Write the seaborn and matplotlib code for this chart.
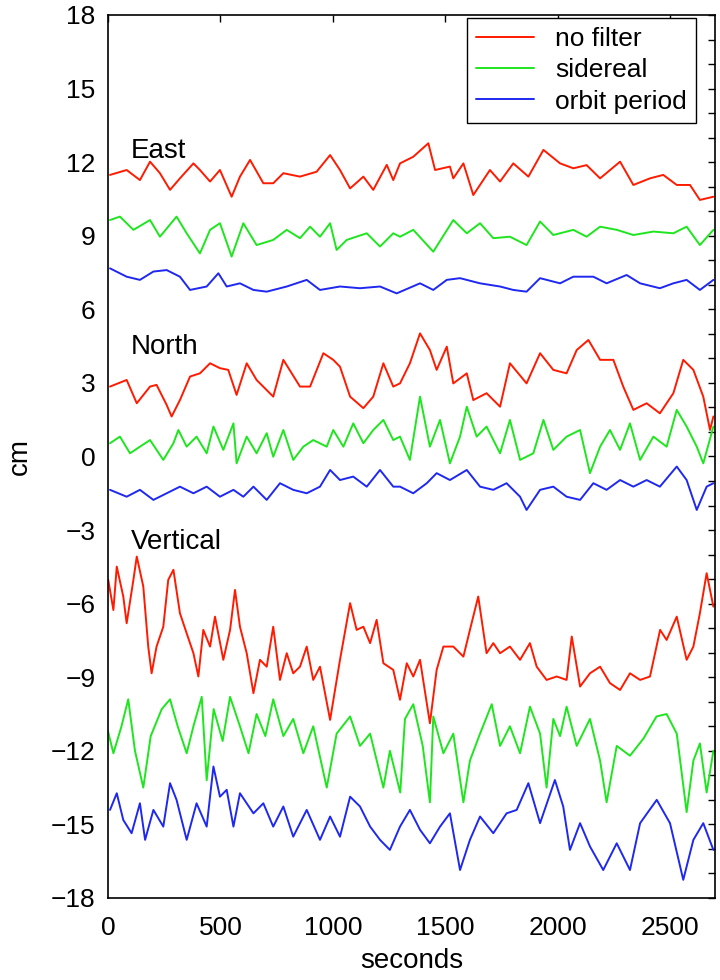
import numpy as np
import pandas as pd
import matplotlib
matplotlib.use("Agg")
import matplotlib.pyplot as plt
import seaborn as sns
from matplotlib.ticker import MultipleLocator
from matplotlib.lines import Line2D

# ---------------- data ----------------
filters = ["no filter", "sidereal", "orbit period"]
components = ["East", "North", "Vertical"]

east_nofilter_t = [9, 83, 142, 187, 231, 276, 320, 380, 409, 454, 498, 550, 587, 632, 691, 735, 780, 854, 928, 988,
                   1032, 1077, 1136, 1180, 1240, 1269, 1299, 1358, 1425, 1455, 1521, 1536, 1581, 1625, 1699, 1744,
                   1803, 1870, 1937, 2011, 2070, 2129, 2189, 2278, 2337, 2411, 2470, 2530, 2589, 2633, 2693]
east_nofilter_v = [11.48, 11.68, 11.27, 12.02, 11.55, 10.87, 11.34, 11.95, 11.68, 11.21, 11.68, 10.59, 11.41, 12.09,
                   11.14, 11.14, 11.55, 11.41, 11.61, 12.29, 11.68, 10.93, 11.41, 10.87, 11.89, 11.27, 11.95, 12.22,
                   12.77, 11.68, 11.82, 11.34, 11.95, 10.66, 11.68, 11.21, 11.95, 11.41, 12.50, 11.95, 11.75, 11.88,
                   11.34, 12.02, 11.07, 11.34, 11.48, 11.07, 11.07, 10.46, 10.59]

east_sidereal_t = [9, 53, 113, 187, 231, 305, 350, 409, 454, 498, 550, 602, 661, 735, 795, 854, 899, 943, 988, 1017,
                   1062, 1151, 1210, 1269, 1299, 1358, 1447, 1536, 1596, 1655, 1714, 1788, 1862, 1922, 1981, 2070,
                   2129, 2189, 2263, 2337, 2426, 2515, 2574, 2633, 2693]
east_sidereal_v = [9.64, 9.78, 9.24, 9.64, 8.96, 9.78, 9.10, 8.28, 9.24, 9.51, 8.15, 9.51, 8.62, 8.83, 9.24, 8.90,
                   9.37, 8.96, 9.51, 8.42, 8.83, 9.10, 8.56, 9.10, 8.96, 9.24, 8.35, 9.64, 9.10, 9.51, 8.90, 8.96,
                   8.62, 9.58, 9.03, 9.24, 8.96, 9.37, 9.24, 9.03, 9.17, 9.10, 9.37, 8.62, 9.24]

east_orbit_t = [9, 83, 142, 202, 261, 320, 365, 439, 491, 528, 587, 647, 706, 795, 884, 943, 1032, 1121, 1210, 1284,
                1388, 1447, 1507, 1566, 1655, 1744, 1803, 1862, 1922, 2011, 2070, 2159, 2218, 2307, 2367, 2455,
                2515, 2574, 2633, 2693]
east_orbit_v = [7.67, 7.33, 7.20, 7.54, 7.60, 7.33, 6.79, 6.93, 7.47, 6.93, 7.06, 6.79, 6.72, 6.93, 7.20, 6.79, 6.93,
                6.86, 6.93, 6.65, 7.06, 6.79, 7.20, 7.27, 7.06, 6.93, 6.79, 6.72, 7.27, 7.06, 7.33, 7.33, 7.06, 7.40,
                7.06, 6.86, 7.06, 7.20, 6.79, 7.20]

north_nofilter_t = [9, 83, 128, 187, 216, 261, 283, 320, 365, 409, 454, 498, 535, 572, 617, 661, 735, 780, 854, 899,
                    958, 1002, 1032, 1077, 1136, 1180, 1225, 1269, 1299, 1343, 1388, 1432, 1462, 1507, 1536, 1596,
                    1625, 1684, 1744, 1788, 1862, 1922, 1981, 2040, 2085, 2137, 2189, 2248, 2292, 2337, 2396, 2455,
                    2515, 2559, 2604, 2648, 2678, 2693]
north_nofilter_v = [2.85, 3.12, 2.17, 2.85, 2.92, 2.10, 1.63, 2.30, 3.26, 3.39, 3.80, 3.60, 3.53, 2.51, 3.80, 3.12,
                    2.44, 3.94, 2.85, 2.85, 4.21, 3.94, 3.66, 2.44, 1.97, 2.44, 3.80, 2.85, 2.98, 3.80, 5.02, 4.34,
                    3.53, 4.48, 2.98, 3.39, 2.30, 2.58, 2.03, 3.80, 2.98, 4.21, 3.53, 3.39, 4.34, 4.75, 3.94, 3.94,
                    2.85, 1.90, 2.17, 1.76, 2.58, 3.94, 3.53, 2.44, 1.08, 1.63]

north_sidereal_t = [9, 53, 98, 142, 187, 246, 291, 313, 350, 394, 439, 469, 513, 558, 572, 617, 661, 706, 735, 780,
                    824, 869, 913, 973, 1002, 1047, 1091, 1136, 1180, 1225, 1269, 1299, 1343, 1388, 1432, 1477, 1521,
                    1566, 1596, 1640, 1684, 1744, 1788, 1833, 1892, 1937, 1981, 2040, 2100, 2144, 2189, 2233, 2278,
                    2322, 2367, 2426, 2485, 2530, 2574, 2619, 2648, 2693]
north_sidereal_v = [0.54, 0.81, 0.13, 0.40, 0.67, -0.14, 0.54, 1.08, 0.40, 0.81, 0.13, 1.22, 0.27, 1.35, -0.28, 0.81,
                    0.13, 0.95, -0.01, 1.08, -0.14, 0.40, 0.67, 0.40, 1.08, 0.40, 1.35, 0.54, 1.08, 1.49, 0.67, 0.81,
                    -0.14, 2.44, 0.40, 1.49, -0.28, 0.81, 2.03, 0.81, 1.22, 0.13, 1.49, -0.14, 0.13, 1.49, 0.27, 0.81,
                    1.08, -0.68, 0.40, 1.08, 0.27, 1.35, -0.14, 0.81, 0.40, 1.90, 1.22, 0.40, -0.28, 1.22]

north_orbit_t = [9, 83, 142, 202, 261, 320, 380, 439, 498, 558, 602, 647, 706, 765, 824, 884, 943, 988, 1032, 1091,
                 1151, 1210, 1269, 1299, 1358, 1418, 1462, 1521, 1596, 1655, 1714, 1773, 1833, 1862, 1922, 1981,
                 2040, 2100, 2159, 2218, 2278, 2337, 2396, 2455, 2530, 2574, 2619, 2663, 2693]
north_orbit_v = [-1.36, -1.64, -1.36, -1.77, -1.50, -1.23, -1.50, -1.23, -1.64, -1.36, -1.64, -1.23, -1.77, -1.09,
                 -1.36, -1.50, -1.23, -0.55, -0.96, -0.82, -1.23, -0.55, -1.23, -1.23, -1.50, -1.09, -0.68, -0.96,
                 -0.55, -1.23, -1.36, -1.09, -1.64, -2.18, -1.36, -1.23, -1.64, -1.77, -1.09, -1.36, -0.96, -1.23,
                 -0.96, -1.23, -0.41, -0.96, -2.18, -1.23, -1.09]

vert_nofilter_t = [1, 24, 39, 68, 83, 113, 128, 157, 179, 194, 216, 246, 268, 291, 320, 350, 380, 402, 424, 454, 476,
                   513, 543, 565, 587, 617, 647, 676, 706, 735, 765, 795, 824, 854, 884, 913, 943, 988, 1032, 1077,
                   1106, 1136, 1166, 1195, 1225, 1269, 1299, 1329, 1358, 1388, 1432, 1462, 1492, 1536, 1581, 1610,
                   1647, 1684, 1714, 1744, 1788, 1833, 1877, 1907, 1951, 1996, 2040, 2063, 2100, 2144, 2189, 2233,
                   2278, 2322, 2367, 2411, 2456, 2485, 2530, 2574, 2604, 2633, 2663, 2693]
vert_nofilter_v = [-5.03, -6.26, -4.49, -5.71, -6.80, -5.03, -4.08, -5.30, -7.75, -8.84, -7.75, -6.94, -5.03, -4.62,
                   -6.39, -7.21, -8.02, -8.97, -7.07, -7.75, -6.53, -8.29, -7.07, -5.44, -6.94, -8.02, -9.65, -8.29,
                   -8.57, -6.94, -9.11, -8.02, -8.84, -8.57, -7.75, -9.11, -8.57, -10.74, -8.29, -5.98, -7.07, -6.94,
                   -7.61, -6.66, -8.43, -8.70, -9.92, -8.43, -8.97, -8.29, -10.88, -8.70, -7.75, -7.75, -8.16, -7.07,
                   -5.71, -8.02, -7.61, -8.02, -7.75, -8.29, -7.61, -8.57, -9.11, -8.97, -9.11, -7.34, -9.38, -8.84,
                   -8.57, -9.24, -9.52, -8.84, -9.11, -8.97, -7.07, -7.48, -6.53, -8.29, -7.75, -6.39, -4.76, -6.12]

vert_sidereal_t = [0, 24, 60, 90, 120, 157, 190, 239, 276, 310, 350, 380, 417, 439, 470, 510, 543, 587, 625, 661, 700,
                   735, 780, 824, 869, 913, 973, 1017, 1077, 1121, 1166, 1225, 1254, 1300, 1321, 1358, 1400, 1432,
                   1447, 1492, 1536, 1581, 1610, 1655, 1707, 1744, 1788, 1833, 1877, 1922, 1951, 1981, 2011, 2040,
                   2085, 2144, 2189, 2218, 2263, 2322, 2382, 2440, 2485, 2530, 2574, 2604, 2633, 2663, 2693]
vert_sidereal_v = [-11.2, -12.1, -11.0, -9.9, -12.0, -13.5, -11.4, -10.3, -9.9, -11.0, -12.1, -11.0, -9.8, -13.2,
                   -10.3, -11.6, -9.8, -11.0, -12.1, -10.5, -11.4, -9.9, -11.4, -10.7, -12.1, -11.0, -13.5, -11.3,
                   -10.6, -11.8, -11.3, -13.5, -12.0, -13.7, -10.7, -10.1, -11.8, -14.1, -10.6, -12.1, -11.3, -14.1,
                   -12.4, -11.3, -10.1, -11.8, -11.0, -12.1, -10.2, -11.3, -13.5, -10.7, -11.4, -10.2, -11.8, -10.7,
                   -12.4, -14.1, -11.8, -12.2, -11.5, -10.6, -10.5, -11.3, -14.5, -12.4, -11.7, -13.7, -12.0]

vert_orbit_t = [9, 39, 68, 105, 142, 165, 202, 246, 276, 305, 350, 394, 439, 469, 498, 528, 558, 587, 647, 691, 735,
                780, 824, 884, 943, 988, 1032, 1077, 1121, 1166, 1210, 1254, 1299, 1343, 1388, 1432, 1477, 1521,
                1566, 1610, 1655, 1714, 1773, 1818, 1870, 1922, 1988, 2025, 2055, 2100, 2144, 2203, 2263, 2322,
                2367, 2441, 2500, 2559, 2604, 2648, 2693]
vert_orbit_v = [-14.41, -13.73, -14.82, -15.36, -14.14, -15.63, -14.41, -15.09, -13.32, -14.00, -15.63, -14.14,
                -15.09, -12.64, -13.87, -13.59, -15.09, -13.73, -14.55, -14.14, -15.09, -14.27, -15.50, -14.41,
                -15.63, -14.68, -15.50, -13.87, -14.27, -15.09, -15.63, -16.04, -15.09, -14.41, -15.22, -15.77,
                -15.09, -14.55, -16.86, -15.63, -14.68, -15.36, -14.55, -14.41, -13.32, -14.95, -13.19, -14.27,
                -16.04, -14.95, -15.90, -16.86, -15.77, -16.86, -14.95, -14.00, -14.95, -17.26, -15.63, -14.95,
                -16.04]

label_positions_cm = {"East": 12.45, "North": 4.45, "Vertical": -3.5}

# ---------------- assemble a tidy table ----------------
series = [
    ("East", "no filter", east_nofilter_t, east_nofilter_v),
    ("East", "sidereal", east_sidereal_t, east_sidereal_v),
    ("East", "orbit period", east_orbit_t, east_orbit_v),
    ("North", "no filter", north_nofilter_t, north_nofilter_v),
    ("North", "sidereal", north_sidereal_t, north_sidereal_v),
    ("North", "orbit period", north_orbit_t, north_orbit_v),
    ("Vertical", "no filter", vert_nofilter_t, vert_nofilter_v),
    ("Vertical", "sidereal", vert_sidereal_t, vert_sidereal_v),
    ("Vertical", "orbit period", vert_orbit_t, vert_orbit_v),
]
frames = []
for comp, filt, t, v in series:
    frames.append(pd.DataFrame({"seconds": t, "cm": v, "component": comp, "filter": filt}))
df = pd.concat(frames, ignore_index=True)

# ---------------- plot ----------------
sns.set_style("white")
plt.rcParams["font.family"] = ["Liberation Sans", "DejaVu Sans"]
plt.rcParams["text.color"] = "black"
plt.rcParams["axes.labelcolor"] = "black"
plt.rcParams["xtick.color"] = "black"
plt.rcParams["ytick.color"] = "black"

fig = plt.figure(figsize=(7.2, 9.8), dpi=100)
ax = fig.add_axes([0.15, 0.0837, 0.843, 0.901])

palette = {"no filter": "#ff1a00", "sidereal": "#1ee61e", "orbit period": "#1e28f0"}
sns.lineplot(data=df, x="seconds", y="cm", hue="filter", units="component", estimator=None,
             palette=palette, hue_order=filters, sort=False, linewidth=1.4, ax=ax, legend=False)

ax.set_xlim(0, 2700)
ax.set_ylim(-18, 18)
ax.xaxis.set_major_locator(MultipleLocator(500))
ax.yaxis.set_minor_locator(MultipleLocator(1))
ax.tick_params(axis="both", which="both", direction="in", top=True, right=True,
               length=5, width=1, labelsize=19, color="black", labelcolor="black")
ax.tick_params(axis="x", which="major", pad=13)
ax.tick_params(axis="y", which="major", pad=9)
ax.set_yticks(np.arange(-18, 19, 3))
ax.set_yticklabels([f"{int(v)}".replace("-", "\u2212") for v in np.arange(-18, 19, 3)])
for sp in ax.spines.values():
    sp.set_color("black")
    sp.set_linewidth(1.2)

ax.set_xlabel("seconds", fontsize=20, labelpad=6, color="black")
ax.set_ylabel("cm", fontsize=20, labelpad=13, color="black")

for comp in components:
    ax.text(100, label_positions_cm[comp], comp, fontsize=20, va="center", ha="left", color="black")

handles = [Line2D([], [], color=palette[f], linewidth=1.4) for f in filters]
leg = ax.legend(handles, filters, loc="upper right", bbox_to_anchor=(0.969, 0.997), borderaxespad=0,
                fontsize=19, frameon=True, fancybox=False, edgecolor="black", framealpha=1,
                handlelength=2.2, handletextpad=0.8, labelspacing=0.28, borderpad=0.35)
leg.get_frame().set_linewidth(1.0)
for t in leg.get_texts():
    t.set_color("black")

fig.savefig("out.png", dpi=100)
